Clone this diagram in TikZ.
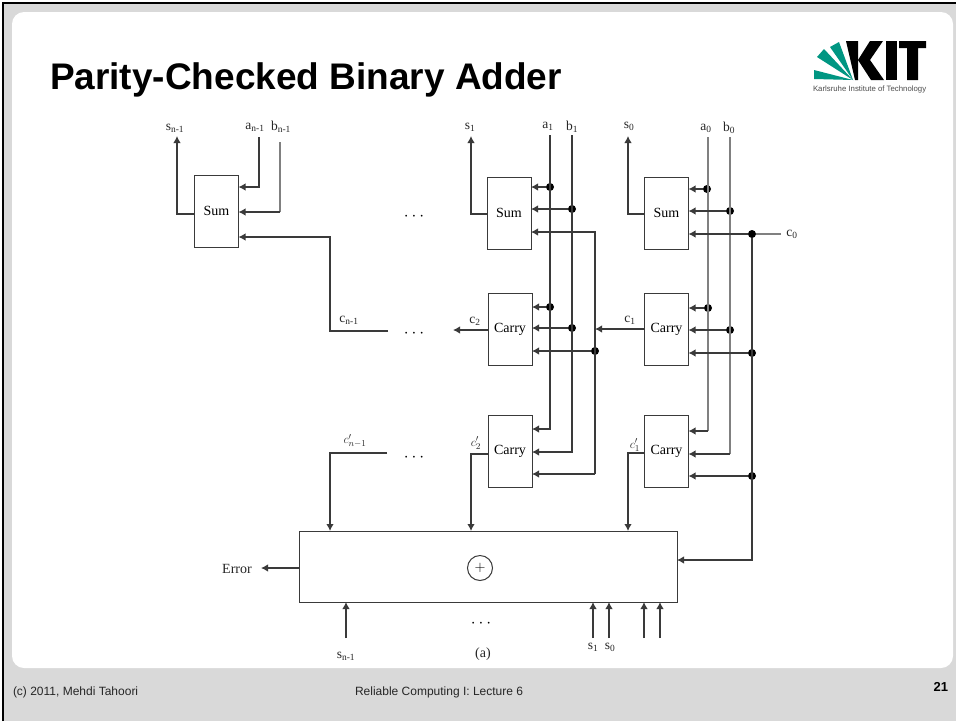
\documentclass[tikz,border=0pt]{standalone}
\usepackage{fontspec}
\setmainfont{Liberation Serif}
\setsansfont{Liberation Sans}
\usetikzlibrary{arrows.meta}
\definecolor{slidegray}{HTML}{D9D9D9}
\definecolor{kitgreen}{HTML}{009682}
\definecolor{wiredark}{HTML}{3A3A3A}
\definecolor{wirelight}{HTML}{808080}
\begin{document}
\begin{tikzpicture}[
    x=1pt, y=-1pt,
    every node/.style={inner sep=0pt, outer sep=0pt},
    block/.style={draw=wiredark, line width=1pt, fill=white,
                  minimum width=44pt, minimum height=72pt,
                  font=\fontsize{14}{16}\selectfont},
    wire/.style={line width=1.25pt, draw=wiredark},
    wirepale/.style={line width=1.25pt, draw=wirelight},
    tip/.style={-{Latex[length=7pt,width=7.5pt]}},
    junc/.style={circle, fill=black, minimum size=8pt},
    lbl/.style={font=\fontsize{13.5}{15}\selectfont, text=black!85},
    gap/.style={font=\fontsize{17}{18}\selectfont},
]
\useasboundingbox (0,0) rectangle (956,721);

% ── Slide frame ──
\fill[slidegray] (3,3) rectangle (956,721);
\draw[black, line width=2.4pt] (3,721) -- (3,3) -- (956,3);
\fill[white, rounded corners=12pt] (12,12) rectangle (953,668);

% ── Title and footer ──
\node[anchor=base west, font=\sffamily\bfseries\fontsize{37}{40}\selectfont] (title) at (50,89)
    {Parity-Checked Binary Adder};
\node[anchor=base west, font=\sffamily\fontsize{12}{14}\selectfont, text=black!85] (foot) at (13,695)
    {(c) 2011, Mehdi Tahoori};
\node[anchor=base west, font=\sffamily\fontsize{12}{14}\selectfont, text=black!85] (lect) at (355,695)
    {Reliable Computing I: Lecture 6};
\node[anchor=base east, font=\sffamily\bfseries\fontsize{13}{15}\selectfont] (page) at (948,691) {21};

% ── Logo ──
\fill[kitgreen] (853,80) -- (814,70) -- (814,79) -- cycle;
\fill[kitgreen] (853,80) -- (817,57) -- (824,49) -- cycle;
\fill[kitgreen] (853,80) -- (830,47) -- (839,42) -- cycle;
\fill[black] (846,41) -- (858,41) -- (858,80) -- (855,80) -- cycle;
\fill[black] (870,41) -- (883,41) -- (870,60) -- (884,80) -- (871,80) -- (858,60) -- cycle;
\fill[black] (886,41) rectangle (897,80);
\fill[black] (899,41) -- (926,41) -- (926,48) -- (918,48) -- (918,80) -- (907,80) -- (907,48) -- (899,48) -- cycle;
\node[anchor=base west, font=\sffamily\fontsize{7.8}{8}\selectfont, text=black!70] (kitname) at (813,91)
    {Karlsruhe Institute of Technology};

% ── Blocks ──
\node[block] (sumn) at (216.5,211) {Sum};
\node[block] (sumb) at (509,213) {Sum};
\node[block] (suma) at (666.5,213) {Sum};
\node[block] (carb) at (510,329) {Carry};
\node[block] (cara) at (666.5,329) {Carry};
\node[block] (chkb) at (510,451.5) {Carry};
\node[block] (chka) at (666.5,451.5) {Carry};
\node[block, minimum width=378pt, minimum height=71pt] (xorbox) at (488,566.5) {};
\node[circle, draw=wiredark, line width=1pt, minimum size=25pt, font=\fontsize{15}{15}\selectfont] (xorsym) at (480,568) {$+$};

% ── Junctions ──
\node[junc] (asb) at (550,187) {};
\node[junc] (bsb) at (572,209) {};
\node[junc] (acb) at (550,307) {};
\node[junc] (bcb) at (572,328) {};
\node[junc] (ccb) at (595,351) {};
\node[junc] (asa) at (707,189) {};
\node[junc] (bsa) at (730,211) {};
\node[junc] (aca) at (708,308) {};
\node[junc] (bca) at (730,330) {};
\node[junc] (csa) at (752,234) {};
\node[junc] (cca) at (752,353) {};
\node[junc] (cka) at (752,476) {};

% ── Free ends and bends ──
\coordinate (topsn) at (177,136);
\coordinate (topan) at (259,137);
\coordinate (topbn) at (280,142);
\coordinate (bendbn) at (280,212);
\coordinate (cnend) at (388,331);
\coordinate (topsb) at (471,136);
\coordinate (topab) at (550,135);
\coordinate (topbb) at (572,135);
\coordinate (topsa) at (628,136);
\coordinate (topaa) at (708,137);
\coordinate (topba) at (730,137);
\coordinate (bendaa) at (708,431);
\coordinate (bendba) at (730,454);
\coordinate (czero) at (781,234);
\coordinate (cbout) at (453,330);
\coordinate (cpend) at (387,453);
\coordinate (errend) at (261,568);
\coordinate (inn) at (346,638);
\coordinate (ins) at (593,638);
\coordinate (inr) at (609,638);
\coordinate (inp) at (644,638);
\coordinate (inq) at (660,638);

% ── Column n-1 ──
\draw[wire, tip] (sumn.west |- 0,214) -| (topsn);
\draw[wire, tip] (topan) |- (sumn.east |- 0,187);
\draw[wirepale] (topbn) -- (bendbn);
\draw[wire, tip] (bendbn) -- (bendbn -| sumn.east);
\draw[wire, tip] (cnend) -| (330,237) -- (sumn.east |- 0,237);
\draw[wire, tip] (cpend) -| (330,531);

% ── Column 1 ──
\draw[wire, tip] (sumb.west |- 0,214) -| (topsb);
\draw[wire, tip] (topab) |- (chkb.east |- 0,429);
\draw[wire, tip] (topbb) |- (chkb.east |- 0,452);
\draw[wire, tip] (595,474) |- (sumb.east |- 0,232);
\draw[wire, tip] (595,474) -- (chkb.east |- 0,474);
\draw[wire, tip] (asb) -- (asb -| sumb.east);
\draw[wire, tip] (bsb) -- (bsb -| sumb.east);
\draw[wire, tip] (acb) -- (acb -| carb.east);
\draw[wire, tip] (bcb) -- (bcb -| carb.east);
\draw[wire, tip] (ccb) -- (ccb -| carb.east);
\draw[wire, tip] (carb.west |- cbout) -- (cbout);
\draw[wire, tip] (chkb.west |- 0,454) -| (471,531);

% ── Column 0 ──
\draw[wire, tip] (suma.west |- 0,214) -| (topsa);
\draw[wirepale] (topaa) -- (bendaa);
\draw[wirepale] (topba) -- (bendba);
\draw[wire, tip] (bendaa) -- (bendaa -| chka.east);
\draw[wire, tip] (bendba) -- (bendba -| chka.east);
\draw[wire, tip] (asa) -- (asa -| suma.east);
\draw[wire, tip] (bsa) -- (bsa -| suma.east);
\draw[wirepale] (czero) -- (csa);
\draw[wire, tip] (csa) -- (csa -| suma.east);
\draw[wire, tip] (aca) -- (aca -| cara.east);
\draw[wire, tip] (bca) -- (bca -| cara.east);
\draw[wire, tip] (cca) -- (cca -| cara.east);
\draw[wire, tip] (cka) -- (cka -| chka.east);
\draw[wire, tip] (csa) |- (xorbox.east |- 0,560);
\draw[wire, tip] (cara.west |- 0,329) -- (595,329);
\draw[wire, tip] (chka.west |- 0,453) -| (628,531);

% ── Checker ──
\draw[wire, tip] (xorbox.west |- errend) -- (errend);
\draw[wire, tip] (inn) -- (inn |- xorbox.south);
\draw[wire, tip] (ins) -- (ins |- xorbox.south);
\draw[wire, tip] (inr) -- (inr |- xorbox.south);
\draw[wire, tip] (inp) -- (inp |- xorbox.south);
\draw[wire, tip] (inq) -- (inq |- xorbox.south);

% ── Labels ──
\node[lbl] (lsn) at (175,128) {s\textsubscript{n-1}};
\node[lbl] (lan) at (255,127) {a\textsubscript{n-1}};
\node[lbl] (lbn) at (281,127) {b\textsubscript{n-1}};
\node[lbl] (lcn) at (349,320) {c\textsubscript{n-1}};
\node[lbl] (lsb) at (470,127) {s\textsubscript{1}};
\node[lbl] (lab) at (548,126) {a\textsubscript{1}};
\node[lbl] (lbb) at (572,127) {b\textsubscript{1}};
\node[lbl] (lsa) at (629,126) {s\textsubscript{0}};
\node[lbl] (laa) at (706,128) {a\textsubscript{0}};
\node[lbl] (lba) at (729,128) {b\textsubscript{0}};
\node[lbl] (lcz) at (792,234) {c\textsubscript{0}};
\node[lbl] (lcb) at (475,321) {c\textsubscript{2}};
\node[lbl] (lca) at (630,320) {c\textsubscript{1}};
\node[lbl, font=\fontsize{13}{14}\selectfont] (lpn) at (355,441) {$c'_{n-1}$};
\node[lbl, font=\fontsize{13}{14}\selectfont] (lpb) at (476,443) {$c'_2$};
\node[lbl, font=\fontsize{13}{14}\selectfont] (lpa) at (635,445) {$c'_1$};
\node[lbl, font=\fontsize{14}{16}\selectfont] (lerr) at (237,569) {Error};
\node[lbl] (lin) at (346,656) {s\textsubscript{n-1}};
\node[lbl] (lis) at (593,647) {s\textsubscript{1}};
\node[lbl] (lir) at (610,647) {s\textsubscript{0}};
\node[lbl, font=\fontsize{14}{16}\selectfont] (lpart) at (483,654) {(a)};
\node[gap] (gtop) at (414,217) {$\cdots$};
\node[gap] (gmid) at (414,334) {$\cdots$};
\node[gap] (gchk) at (414,458) {$\cdots$};
\node[gap] (gbot) at (481,624) {$\cdots$};
\end{tikzpicture}
\end{document}
